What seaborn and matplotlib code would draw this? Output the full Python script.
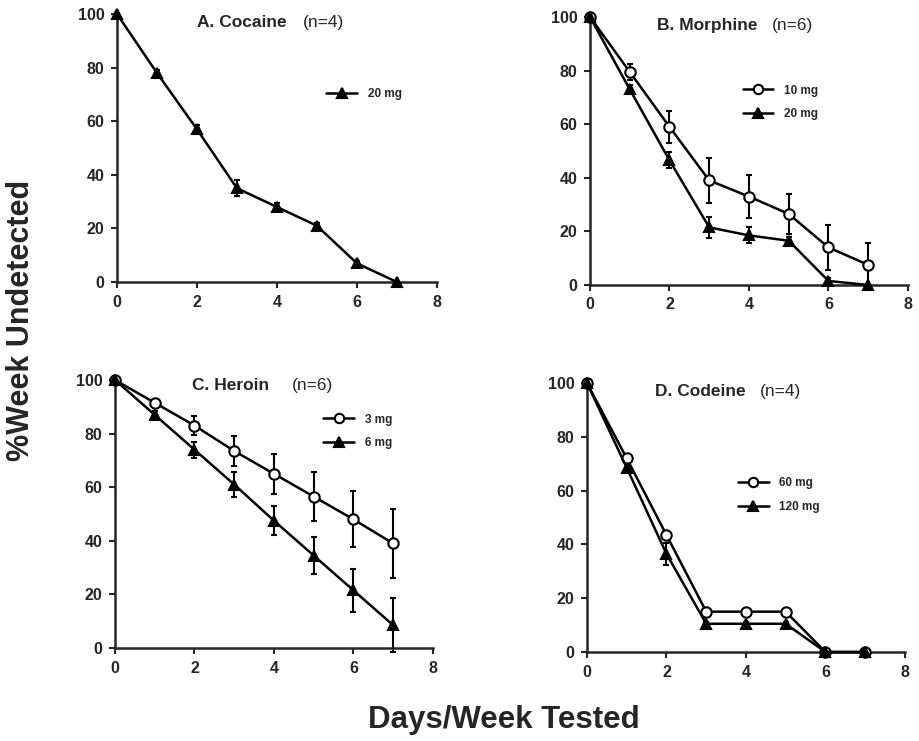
import matplotlib
matplotlib.use("Agg")
import matplotlib.pyplot as plt
import pandas as pd
import seaborn as sns

# ---- data: % of week with drug undetected vs. number of test days per week
days = [0, 1, 2, 3, 4, 5, 6, 7]

cocaine_20 = [100, 78, 57, 35, 28, 21, 7, 0]
cocaine_20_sem = [0, 1, 1.5, 3, 1.5, 1, 1, 0]

morphine_10 = [100, 79.5, 59, 39, 33, 26.5, 14, 7.5]
morphine_10_sem = [0, 3, 6, 8.5, 8, 7.5, 8.5, 8.3]
morphine_20 = [100, 73, 46.5, 21.5, 18.5, 16.5, 1.5, 0]
morphine_20_sem = [0, 1.5, 3, 4, 3, 1.5, 1, 0]

heroin_3 = [100, 91.5, 83, 73.5, 65, 56.5, 48, 39]
heroin_3_sem = [0, 1.5, 3.5, 5.5, 7.5, 9, 10.5, 13]
heroin_6 = [100, 87, 74, 61, 47.5, 34.5, 21.5, 8.5]
heroin_6_sem = [0, 1.5, 3, 4.5, 5.5, 7, 8, 10]

codeine_60 = [100, 72, 43.5, 15, 15, 15, 0, 0]
codeine_60_sem = [0, 0.5, 1, 0.5, 0.5, 0.5, 0, 0]
codeine_120 = [100, 68.5, 36.5, 10.5, 10.5, 10.5, 0, 0]
codeine_120_sem = [0, 1.5, 4, 0.5, 0.5, 0.5, 0, 0]

x_ticks = [0, 2, 4, 6, 8]
y_ticks = [0, 20, 40, 60, 80, 100]

panels = [
    {"label": "A. Cocaine", "n": "(n=4)",
     "series": [("20 mg", cocaine_20, cocaine_20_sem, "^")]},
    {"label": "B. Morphine", "n": "(n=6)",
     "series": [("10 mg", morphine_10, morphine_10_sem, "o"),
                ("20 mg", morphine_20, morphine_20_sem, "^")]},
    {"label": "C. Heroin", "n": "(n=6)",
     "series": [("3 mg", heroin_3, heroin_3_sem, "o"),
                ("6 mg", heroin_6, heroin_6_sem, "^")]},
    {"label": "D. Codeine", "n": "(n=4)",
     "series": [("60 mg", codeine_60, codeine_60_sem, "o"),
                ("120 mg", codeine_120, codeine_120_sem, "^")]},
]

# ---- layout
sns.set_style("ticks")
plt.rcParams["font.family"] = ["Liberation Sans", "DejaVu Sans"]
plt.rcParams["axes.linewidth"] = 1.8

fig = plt.figure(figsize=(9.19, 7.41), dpi=100)
axes_rects = [
    [0.1273, 0.6194, 0.348, 0.3617],
    [0.6420, 0.6154, 0.346, 0.3617],
    [0.1251, 0.1255, 0.346, 0.3617],
    [0.6387, 0.1201, 0.346, 0.3630],
]
title_pos = [
    (0.25, 0.58, 0.97),
    (0.21, 0.572, 0.97),
    (0.242, 0.557, 0.98),
    (0.214, 0.545, 0.967),
]
legend_pos = [
    (0.655, 0.70),
    (0.48, 0.681),
    (0.655, 0.808),
    (0.475, 0.584),
]

for rect, panel, tpos, lpos in zip(axes_rects, panels, title_pos, legend_pos):
    ax = fig.add_axes(rect)
    for name, vals, sem, mk in panel["series"]:
        df = pd.DataFrame({"day": days, "pct": vals})
        face = "white" if mk == "o" else "black"
        ax.errorbar(days, vals, yerr=sem, fmt="none", ecolor="black",
                    elinewidth=1.5, capsize=2.5, capthick=1.5, zorder=2,
                    clip_on=False)
        sns.lineplot(data=df, x="day", y="pct", ax=ax, color="black",
                     linewidth=1.8, marker=mk, markersize=7.5,
                     markerfacecolor=face, markeredgecolor="black",
                     markeredgewidth=1.5, label=name, clip_on=False, zorder=3)
    ax.set_xlim(0, 8)
    ax.set_ylim(0, 100)
    ax.set_xticks(x_ticks)
    ax.set_yticks(y_ticks)
    ax.set_xlabel("")
    ax.set_ylabel("")
    ax.tick_params(axis="both", direction="out", length=4, width=1.5,
                   labelsize=11.5, pad=5)
    for lab in ax.get_xticklabels() + ax.get_yticklabels():
        lab.set_fontweight("bold")
    sns.despine(ax=ax)

    ax.text(tpos[0], tpos[2], panel["label"], transform=ax.transAxes,
            fontsize=12.5, fontweight="bold", va="center", ha="left")
    ax.text(tpos[1], tpos[2], panel["n"], transform=ax.transAxes,
            fontsize=12.5, va="center", ha="left")

    leg = ax.legend(loc="center left", bbox_to_anchor=lpos, frameon=False,
                    fontsize=8.5, handlelength=2.6, handletextpad=0.9,
                    labelspacing=1.0, borderpad=0, borderaxespad=0,
                    numpoints=1, markerscale=0.9)
    for t in leg.get_texts():
        t.set_fontweight("bold")

fig.text(0.023, 0.568, "%Week Undetected", rotation=90, fontsize=22,
         fontweight="bold", ha="center", va="center")
fig.text(0.548, 0.029, "Days/Week Tested", fontsize=22.5, fontweight="bold",
         ha="center", va="center")

fig.savefig("out.png", dpi=100)
